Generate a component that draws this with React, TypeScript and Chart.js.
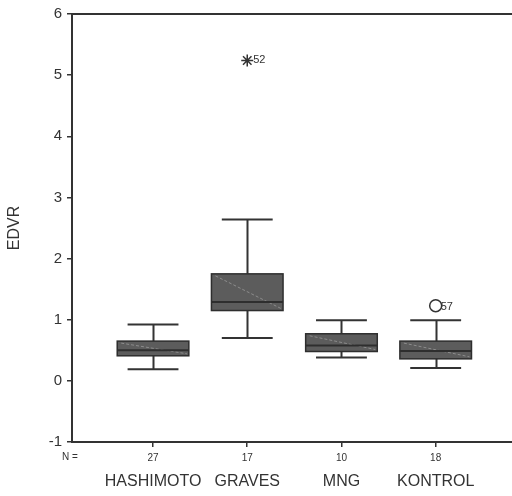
import React, { useEffect, useRef } from "react";
import { Chart, registerables } from "chart.js";

Chart.register(...registerables);

// ---- data ----
const categories = ["HASHIMOTO", "GRAVES", "MNG", "KONTROL"];
const nValues = ["27", "17", "10", "18"];
const whiskerLow = [0.19, 0.7, 0.38, 0.21];
const q1 = [0.41, 1.15, 0.48, 0.36];
const median = [0.5, 1.29, 0.58, 0.49];
const q3 = [0.65, 1.75, 0.77, 0.65];
const whiskerHigh = [0.92, 2.64, 0.99, 0.99];

const extremeX = [2];
const extremeY = [5.24];
const extremeLabels = ["52"];

const outlierX = [4];
const outlierY = [1.23];
const outlierLabels = ["57"];

const yMin = -1;
const yMax = 6;

// ---- style ----
const FONT = "Arial, 'Liberation Sans', Helvetica, sans-serif";
const INK = "#333333";
const BOX_FILL = "#5c5c5c";
const BOX_HALF = 0.38;
const CAP_HALF = 0.27;
const X_MIN = 0.14;
const X_MAX = 4.81;

const boxPlugin = {
  id: "boxplot",
  beforeDatasetsDraw(chart: any) {
    const { ctx } = chart;
    const xs = chart.scales.x;
    const ys = chart.scales.y;
    ctx.save();
    categories.forEach((_, i) => {
      const c = i + 1;
      const xc = Math.round(xs.getPixelForValue(c)) + 0.5;
      const xl = xs.getPixelForValue(c - BOX_HALF);
      const xr = xs.getPixelForValue(c + BOX_HALF);
      const cl = xs.getPixelForValue(c - CAP_HALF);
      const cr = xs.getPixelForValue(c + CAP_HALF);
      const yLo = ys.getPixelForValue(whiskerLow[i]);
      const yQ1 = ys.getPixelForValue(q1[i]);
      const yMed = ys.getPixelForValue(median[i]);
      const yQ3 = ys.getPixelForValue(q3[i]);
      const yHi = ys.getPixelForValue(whiskerHigh[i]);

      ctx.strokeStyle = INK;
      ctx.lineWidth = 2;
      ctx.beginPath();
      ctx.moveTo(xc, yHi);
      ctx.lineTo(xc, yQ3);
      ctx.moveTo(xc, yQ1);
      ctx.lineTo(xc, yLo);
      ctx.moveTo(cl, yHi);
      ctx.lineTo(cr, yHi);
      ctx.moveTo(cl, yLo);
      ctx.lineTo(cr, yLo);
      ctx.stroke();

      ctx.fillStyle = BOX_FILL;
      ctx.fillRect(xl, yQ3, xr - xl, yQ1 - yQ3);

      // faint diagonal shading artifact
      ctx.save();
      ctx.strokeStyle = "#8c8c8c";
      ctx.lineWidth = 1;
      ctx.setLineDash([3, 2]);
      ctx.beginPath();
      ctx.moveTo(xl + 4, yQ3 + 2);
      ctx.lineTo(xr - 2, yQ1 - 2);
      ctx.stroke();
      ctx.restore();

      ctx.strokeStyle = "#2e2e2e";
      ctx.lineWidth = 2;
      ctx.beginPath();
      ctx.moveTo(xl, yMed);
      ctx.lineTo(xr, yMed);
      ctx.stroke();
      ctx.lineWidth = 1.5;
      ctx.strokeRect(xl, yQ3, xr - xl, yQ1 - yQ3);
    });
    ctx.restore();
  },
  afterDraw(chart: any) {
    const { ctx, chartArea } = chart;
    const xs = chart.scales.x;
    const ys = chart.scales.y;
    ctx.save();
    // top frame line
    ctx.strokeStyle = INK;
    ctx.lineWidth = 2;
    ctx.beginPath();
    ctx.moveTo(chartArea.left - 1, chartArea.top);
    ctx.lineTo(chartArea.right, chartArea.top);
    ctx.stroke();
    // outlier case labels
    ctx.fillStyle = INK;
    ctx.font = `11px ${FONT}`;
    ctx.textAlign = "left";
    ctx.textBaseline = "middle";
    extremeX.forEach((x, i) => {
      ctx.fillText(extremeLabels[i], xs.getPixelForValue(x) + 6, ys.getPixelForValue(extremeY[i]));
    });
    outlierX.forEach((x, i) => {
      ctx.fillText(outlierLabels[i], xs.getPixelForValue(x) + 5, ys.getPixelForValue(outlierY[i]) + 1);
    });
    // "N =" label
    ctx.font = `10px ${FONT}`;
    ctx.textAlign = "center";
    ctx.fillText("N =", 70, 457);
    ctx.restore();
  },
};

const catTicks = (s: any) => {
  s.ticks = categories.map((_, i) => ({ value: i + 1 }));
};

export default function App() {
  const ref = useRef<HTMLCanvasElement | null>(null);
  useEffect(() => {
    if (!ref.current) return;
    Chart.defaults.font.family = FONT;
    Chart.defaults.color = INK;
    const chart = new Chart(ref.current, {
      type: "scatter",
      data: {
        datasets: [
          {
            label: "extreme",
            data: extremeX.map((x, i) => ({ x, y: extremeY[i] })),
            pointStyle: "star",
            radius: 6,
            borderColor: INK,
            backgroundColor: INK,
            borderWidth: 1.5,
          },
          {
            label: "outlier",
            data: outlierX.map((x, i) => ({ x, y: outlierY[i] })),
            pointStyle: "circle",
            radius: 6,
            borderColor: INK,
            backgroundColor: "rgba(255,255,255,0)",
            borderWidth: 1.5,
          },
        ],
      },
      options: {
        animation: false,
        responsive: false,
        events: [],
        layout: { autoPadding: false, padding: { top: 11, right: 0, left: 0, bottom: 0 } },
        plugins: { legend: { display: false }, tooltip: { enabled: false } },
        scales: {
          x: {
            type: "linear",
            position: "bottom",
            min: X_MIN,
            max: X_MAX,
            afterBuildTicks: catTicks,
            afterFit: (s: any) => {
              s.height = 24;
              s.paddingLeft = 0;
              s.paddingRight = 0;
            },
            ticks: {
              callback: (v: any) => nValues[Math.round(v) - 1] ?? "",
              font: { size: 10 },
              color: INK,
              padding: 5,
              maxRotation: 0,
              autoSkip: false,
            },
            grid: { drawOnChartArea: false, drawTicks: true, tickLength: 5, color: INK, lineWidth: 1.5 },
            border: { color: INK, width: 2 },
          },
          x2: {
            type: "linear",
            position: "bottom",
            weight: 1,
            min: X_MIN,
            max: X_MAX,
            afterBuildTicks: catTicks,
            afterFit: (s: any) => {
              s.height = 30;
              s.paddingLeft = 0;
              s.paddingRight = 0;
            },
            ticks: {
              callback: (v: any) => categories[Math.round(v) - 1] ?? "",
              font: { size: 16 },
              color: INK,
              padding: 6,
              maxRotation: 0,
              autoSkip: false,
            },
            grid: { display: false, drawTicks: false },
            border: { display: false },
          },
          y: {
            min: yMin,
            max: yMax,
            afterFit: (s: any) => {
              s.width = 72;
            },
            ticks: { stepSize: 1, font: { size: 15 }, color: INK, padding: 5 },
            grid: { drawOnChartArea: false, drawTicks: true, tickLength: 5, color: INK, lineWidth: 1.5 },
            border: { color: INK, width: 2 },
            title: { display: true, text: "EDVR", font: { size: 16 }, color: INK, padding: { top: 5, bottom: 2 } },
          },
        },
      },
      plugins: [boxPlugin],
    });
    return () => chart.destroy();
  }, []);
  return (
    <div style={{ position: "absolute", left: 0, top: 0, width: 512, height: 496, background: "#fff" }}>
      <canvas ref={ref} width={512} height={496} style={{ display: "block" }} />
    </div>
  );
}
